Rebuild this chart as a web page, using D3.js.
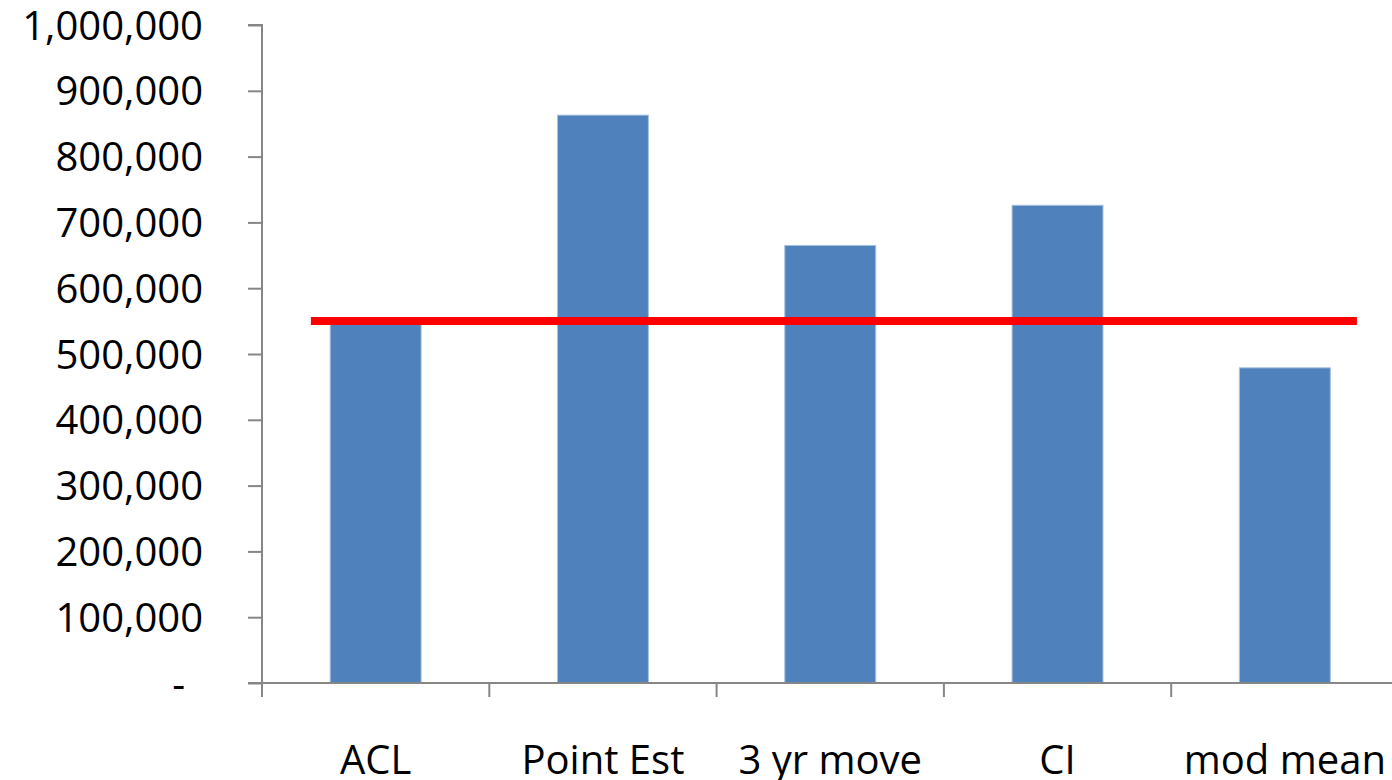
<!DOCTYPE html>
<html><head><meta charset="utf-8">
<script src="https://cdn.jsdelivr.net/npm/d3@7"></script>
<style>body{margin:0;background:#fff;overflow:hidden}svg{display:block}</style>
</head><body>
<svg id="c" width="1392" height="780"></svg>
<script>
const categories = ["ACL", "Point Est", "3 yr move", "CI", "mod mean"];
const values = [550000, 863000, 665000, 726000, 479000];
const thresholdValue = 550000;
const yTicks = [0, 100000, 200000, 300000, 400000, 500000, 600000, 700000, 800000, 900000, 1000000];

const svg = d3.select("#c");
const mLeft = 262, mRight = 1398.5, mTop = 25, mBottom = 683;
const font = "'Open Sans', sans-serif";
const axisColor = "#868686";

const x = d3.scaleBand().domain(categories).range([mLeft, mRight]).paddingInner(0.6).paddingOuter(0.3);
const y = d3.scaleLinear().domain([0, 1000000]).range([mBottom, mTop]);
const step = x.step();

// bars
svg.append("g").selectAll("rect").data(values).join("rect")
  .attr("x", (d, i) => x(categories[i]))
  .attr("y", d => y(d))
  .attr("width", x.bandwidth())
  .attr("height", d => y(0) - y(d))
  .attr("fill", "#4F81BD")
  .attr("stroke", "#A7C0DE").attr("stroke-width", 1);

// y axis
const yAxis = d3.axisLeft(y).tickValues(yTicks).tickSize(14).tickPadding(0)
  .tickFormat(d => d === 0 ? "-" : d3.format(",")(d));
const gy = svg.append("g").attr("transform", `translate(${mLeft},0)`).call(yAxis);
gy.select(".domain").attr("stroke", axisColor).attr("stroke-width", 2).attr("d", `M-14,${mTop}H0V${mBottom}`);
gy.selectAll(".tick line").attr("stroke", axisColor).attr("stroke-width", 2);
gy.selectAll(".tick text").attr("x", -59).attr("dy", null).attr("y", 14)
  .attr("fill", "#000").style("font-family", font).style("font-size", "40px");
gy.selectAll(".tick").filter(d => d === 0).select("text").attr("x", -77);

// x axis line & ticks
const gx = svg.append("g");
gx.append("line").attr("x1", mLeft - 14).attr("x2", mRight).attr("y1", mBottom).attr("y2", mBottom)
  .attr("stroke", axisColor).attr("stroke-width", 2);
gx.selectAll("line.t").data(d3.range(categories.length + 1)).join("line").attr("class", "t")
  .attr("x1", i => mLeft + i * step).attr("x2", i => mLeft + i * step)
  .attr("y1", mBottom).attr("y2", mBottom + 14)
  .attr("stroke", axisColor).attr("stroke-width", 2);
gx.selectAll("text").data(categories).join("text")
  .attr("x", d => x(d) + x.bandwidth() / 2).attr("y", 774)
  .attr("text-anchor", "middle").attr("fill", "#000")
  .style("font-family", font).style("font-size", "40px").text(d => d);

// threshold line
svg.append("line")
  .attr("x1", mLeft + 0.215 * step).attr("x2", mLeft + 4.817 * step)
  .attr("y1", y(thresholdValue)).attr("y2", y(thresholdValue))
  .attr("stroke", "#FF0000").attr("stroke-width", 8);
</script>
</body></html>
